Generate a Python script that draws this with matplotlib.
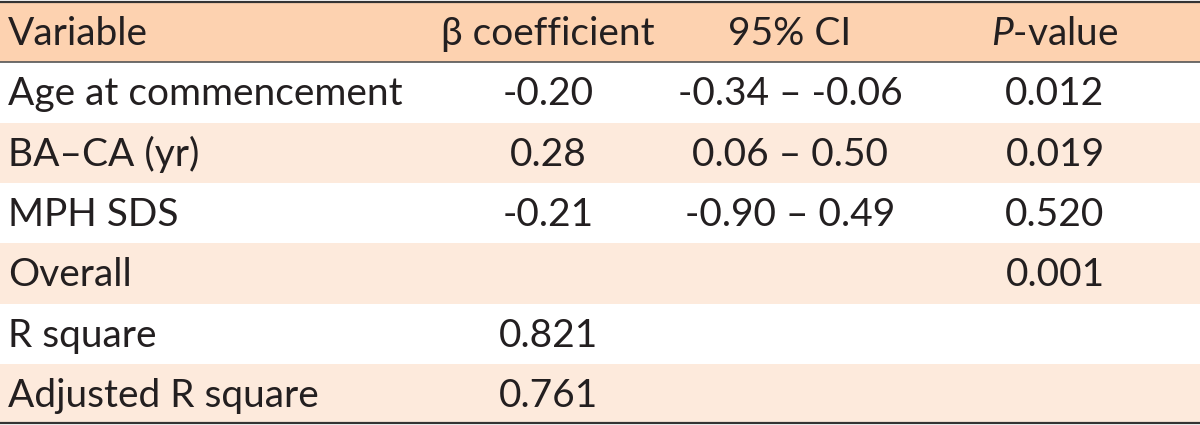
import matplotlib.pyplot as plt

# donnees du tableau
headers = ["Variable", "β coefficient", "95% CI", "$\\it{P}$-value"]
variables = ["Age at commencement", "BA–CA (yr)", "MPH SDS", "Overall",
             "R square", "Adjusted R square"]
betas = ["-0.20", "0.28", "-0.21", "", "0.821", "0.761"]
cis = ["-0.34 – -0.06", "0.06 – 0.50", "-0.90 – 0.49", "", "", ""]
pvalues = ["0.012", "0.019", "0.520", "0.001", "", ""]

fam = "Lato"
plt.rcParams['font.family'] = [fam, 'DejaVu Sans']
plt.rcParams['mathtext.fontset'] = 'custom'
plt.rcParams['mathtext.it'] = fam + ':italic'
plt.rcParams['mathtext.rm'] = fam

W, H = 1200, 425
fig = plt.figure(figsize=(12, 4.25), dpi=100)
ax = fig.add_axes([0, 0, 1, 1])
ax.set_xlim(0, W)
ax.set_ylim(H, 0)
ax.axis("off")

top, row_h = 2, 60.3
header_col = "#fdd2b0"
light_col = "#fdeadc"
col_x = [8, 548, 790, 1055]
fs = 28

# fond entete
ax.axhspan(top, top + row_h, color=header_col, lw=0)
for i in range(len(variables)):
    y0 = top + row_h * (i + 1)
    if i % 2 == 1:
        ax.axhspan(y0, y0 + row_h, color=light_col, lw=0)

# lignes
ax.axhline(top, color="#333333", lw=1.6)
ax.axhline(top + row_h, color="#555555", lw=1.2)
ax.axhline(top + row_h * (len(variables) + 1) - 1, color="#333333", lw=1.6)

txt_col = "#231f20"
yh = top + row_h / 2 + 2
ax.text(col_x[0], yh, headers[0], ha="left", va="center", fontsize=fs, color=txt_col)
for j in range(1, 4):
    ax.text(col_x[j], yh, headers[j], ha="center", va="center", fontsize=fs, color=txt_col)

for i, var in enumerate(variables):
    yc = top + row_h * (i + 1.5) + 2
    ax.text(col_x[0], yc, var, ha="left", va="center", fontsize=fs, color=txt_col)
    ax.text(col_x[1], yc, betas[i], ha="center", va="center", fontsize=fs, color=txt_col)
    ax.text(col_x[2], yc, cis[i], ha="center", va="center", fontsize=fs, color=txt_col)
    ax.text(col_x[3], yc, pvalues[i], ha="center", va="center", fontsize=fs, color=txt_col)

fig.savefig("out.png", dpi=100)
